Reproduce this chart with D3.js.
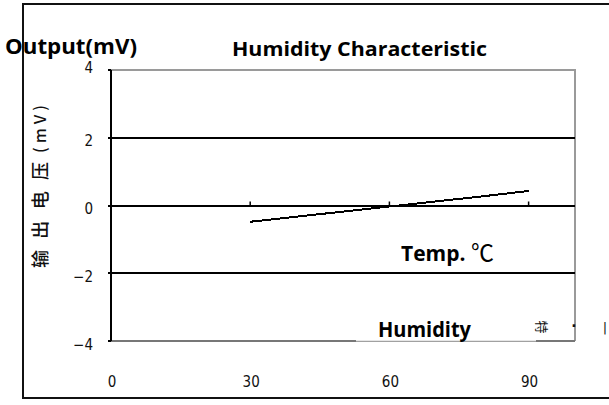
<!DOCTYPE html>
<html><head><meta charset="utf-8">
<script src="https://cdn.jsdelivr.net/npm/d3@7/dist/d3.min.js"></script>
<style>body{margin:0;background:#fff}svg{display:block}</style>
</head><body>
<script>
// data
const humidity = [30, 40, 50, 60, 70, 80, 90];
const output = [-0.48, -0.33, -0.18, -0.03, 0.12, 0.27, 0.43];
const xTicks = [0, 30, 60, 90];
const yTicks = [4, 2, 0, -2, -4];
const yGrid = [2, 0, -2];

const W = 609, H = 405;
const svg = d3.select("body").append("svg").attr("width", W).attr("height", H);

// outer frame
svg.append("rect").attr("x", 23).attr("y", 4).attr("width", 620).attr("height", 394)
  .attr("fill", "none").attr("stroke", "#111").attr("stroke-width", 2);

const x = d3.scaleLinear().domain([0, 100]).range([111, 575]);
const y = d3.scaleLinear().domain([-4, 4]).range([341, 70]);

// plot border (top/right gray)
svg.append("path").attr("d", `M${x(0)},${y(4)}H${x(100)}V${y(-4)}`)
  .attr("fill", "none").attr("stroke", "#9a9a9a").attr("stroke-width", 2);
// bottom border
svg.append("line").attr("x1", x(0)).attr("x2", x(100)).attr("y1", y(-4)).attr("y2", y(-4))
  .attr("stroke", "#777").attr("stroke-width", 2);

// grid lines
svg.selectAll(".grid").data(yGrid).join("line")
  .attr("x1", x(0) - 3).attr("x2", x(100)).attr("y1", d => y(d)).attr("y2", d => y(d))
  .attr("stroke", "#000").attr("stroke-width", 2).attr("shape-rendering", "crispEdges");

svg.append("line").attr("x1", x(0) - 3).attr("x2", x(0)).attr("y1", y(4)).attr("y2", y(4))
  .attr("stroke", "#000").attr("stroke-width", 2);
svg.append("line").attr("x1", x(0) - 3).attr("x2", x(0)).attr("y1", y(-4)).attr("y2", y(-4))
  .attr("stroke", "#000").attr("stroke-width", 2);

// left axis line
svg.append("line").attr("x1", x(0)).attr("x2", x(0)).attr("y1", y(4)).attr("y2", y(-4))
  .attr("stroke", "#000").attr("stroke-width", 2);

// x ticks on zero line
svg.selectAll(".xt").data(xTicks.slice(1)).join("line")
  .attr("x1", d => x(d)).attr("x2", d => x(d)).attr("y1", y(0)).attr("y2", y(0) - 4)
  .attr("stroke", "#000").attr("stroke-width", 1.5);

// y tick labels
svg.selectAll(".yl").data(yTicks).join("text")
  .attr("x", x(0) - 18).attr("y", d => y(d) + (d === 4 ? -2 : 4))
  .attr("text-anchor", "end").attr("dominant-baseline", "middle")
  .attr("font-family", "DejaVu Sans Condensed, DejaVu Sans").attr("font-size", 15)
  .attr("fill", "#111")
  .text(d => d < 0 ? "\u2212" + Math.abs(d) : d);

// x tick labels
svg.selectAll(".xl").data(xTicks).join("text")
  .attr("x", d => x(d) + 1).attr("y", 382)
  .attr("text-anchor", "middle").attr("dominant-baseline", "middle")
  .attr("font-family", "DejaVu Sans Condensed, DejaVu Sans").attr("font-size", 15)
  .attr("fill", "#111")
  .text(d => d);

// data line
svg.append("path").datum(humidity.map((h, i) => [h, output[i]]))
  .attr("d", d3.line().x(d => x(d[0])).y(d => y(d[1])))
  .attr("fill", "none").attr("stroke", "#000").attr("stroke-width", 2)
  .attr("shape-rendering", "crispEdges");

// chinese y label
svg.append("text").attr("transform", "translate(42,268) rotate(-90)")
  .attr("text-anchor", "start").attr("dominant-baseline", "middle")
  .attr("font-family", "Noto Sans CJK SC").attr("font-size", 18).attr("font-weight", 500)
  .attr("textLength", 106).attr("lengthAdjust", "spacing").attr("fill", "#111")
  .text("输出电压");
svg.append("text").attr("transform", "translate(42,153) rotate(-90)")
  .attr("text-anchor", "start").attr("dominant-baseline", "middle")
  .attr("font-family", "Noto Sans CJK SC").attr("font-size", 16).attr("font-weight", 500)
  .attr("textLength", 48).attr("lengthAdjust", "spacing").attr("fill", "#111")
  .text("(mV)");

// bold labels
const bold = (t, tx, ty, fs, len) => svg.append("text").attr("x", tx).attr("y", ty)
  .attr("font-family", "Open Sans").attr("font-weight", 700).attr("font-size", fs)
  .attr("textLength", len).attr("lengthAdjust", "spacingAndGlyphs")
  .attr("fill", "#000").text(t);
bold("Output(mV)", 5, 54, 21, 132);
bold("Humidity Characteristic", 232, 56, 20, 255);
const temp = svg.append("text").attr("x", 401).attr("y", 261)
  .attr("font-family", "Open Sans").attr("font-weight", 700).attr("font-size", 21)
  .attr("fill", "#000");
temp.append("tspan").text("Temp. ");
temp.append("tspan").attr("font-family", "Noto Sans CJK SC").attr("font-weight", 400)
  .attr("font-size", 23).text("\u2103");

// humidity label box
svg.append("rect").attr("x", 356).attr("y", 312).attr("width", 180).attr("height", 29).attr("fill", "#fff");
svg.append("line").attr("x1", 356).attr("x2", 536).attr("y1", y(-4)).attr("y2", y(-4))
  .attr("stroke", "#ccc").attr("stroke-width", 1);
bold("Humidity", 378, 337, 21, 93);

// right-side fragments
svg.append("text").attr("transform", "translate(541,327) rotate(90)")
  .attr("text-anchor", "middle").attr("dominant-baseline", "middle")
  .attr("font-family", "Noto Sans CJK SC").attr("font-size", 13).attr("fill", "#111").text("特");
svg.append("text").attr("x", 574).attr("y", 331).attr("text-anchor", "middle")
  .attr("font-family", "DejaVu Sans").attr("font-size", 14).attr("font-weight", 700).attr("fill", "#111").text("\u00b7");
svg.append("text").attr("x", 605).attr("y", 332).attr("text-anchor", "middle")
  .attr("font-family", "DejaVu Sans").attr("font-size", 13).attr("fill", "#111").text("|");
</script>
</body></html>
